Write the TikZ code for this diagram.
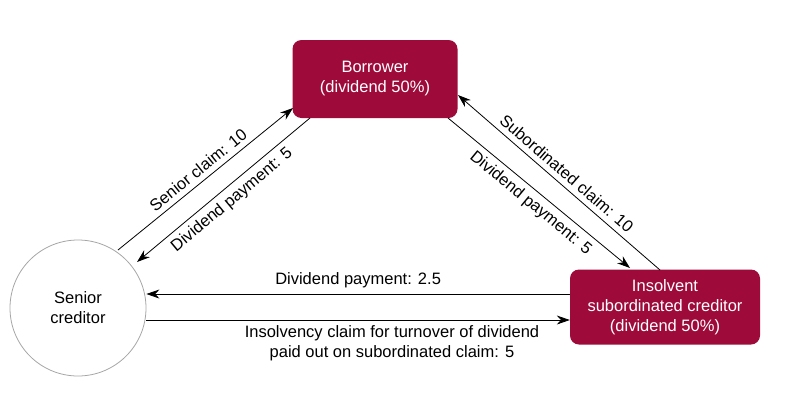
\documentclass[tikz,border=0pt]{standalone}
\usepackage{fontspec}
\setmainfont{Liberation Sans}
\usetikzlibrary{arrows.meta}
\definecolor{claret}{HTML}{9E0B3B}
\begin{document}
\begin{tikzpicture}[x=1pt,y=-1pt,
    box/.style={fill=claret,text=white,rounded corners=9pt,align=center,font=\fontsize{16.5}{20}\selectfont},
    flow/.style={-{Stealth[length=13pt,width=9pt]},line width=0.8pt},
    lab/.style={font=\fontsize{16.5}{20}\selectfont,align=center}]
    \useasboundingbox (0,0) rectangle (800,408);
    \node[box,minimum width=165pt,minimum height=78pt] (borrower) at (375,79) {Borrower\\(dividend 50\%)};
    \node[box,minimum width=190pt,minimum height=75pt] (insolvent) at (665,307) {Insolvent\\subordinated creditor\\(dividend 50\%)};
    \node[circle,draw=gray!70,line width=0.8pt,minimum size=136pt,lab] (senior) at (78,308) {Senior\\creditor};

    \coordinate (s1) at (118,250);
    \coordinate (b1) at (293,108);
    \coordinate (s2) at (137,262);
    \coordinate (b2) at (310,118);
    \coordinate (b3) at (458,95);
    \coordinate (i3) at (660,270);
    \coordinate (b4) at (448,118);
    \coordinate (i4) at (630,268);

    \draw[flow] (s1) -- (b1) node[midway,above=2pt,sloped,lab] {Senior claim: 10};
    \draw[flow] (b2) -- (s2) node[midway,below=2pt,sloped,lab] {Dividend payment: 5};
    \draw[flow] (i3) -- (b3) node[midway,above=2pt,sloped,lab] {Subordinated claim: 10};
    \draw[flow] (b4) -- (i4) node[midway,below=2pt,sloped,lab] {Dividend payment: 5};
    \draw[flow] ([yshift=13pt]insolvent.west) -- ([yshift=14pt]senior.east) node[pos=0.5,above=2pt,lab] {Dividend payment: 2.5};
    \draw[flow] ([yshift=-12pt]senior.east) -- ([yshift=-13pt]insolvent.west) node[pos=0.58,below=2pt,lab] {Insolvency claim for turnover of dividend\\paid out on subordinated claim: 5};
\end{tikzpicture}
\end{document}
